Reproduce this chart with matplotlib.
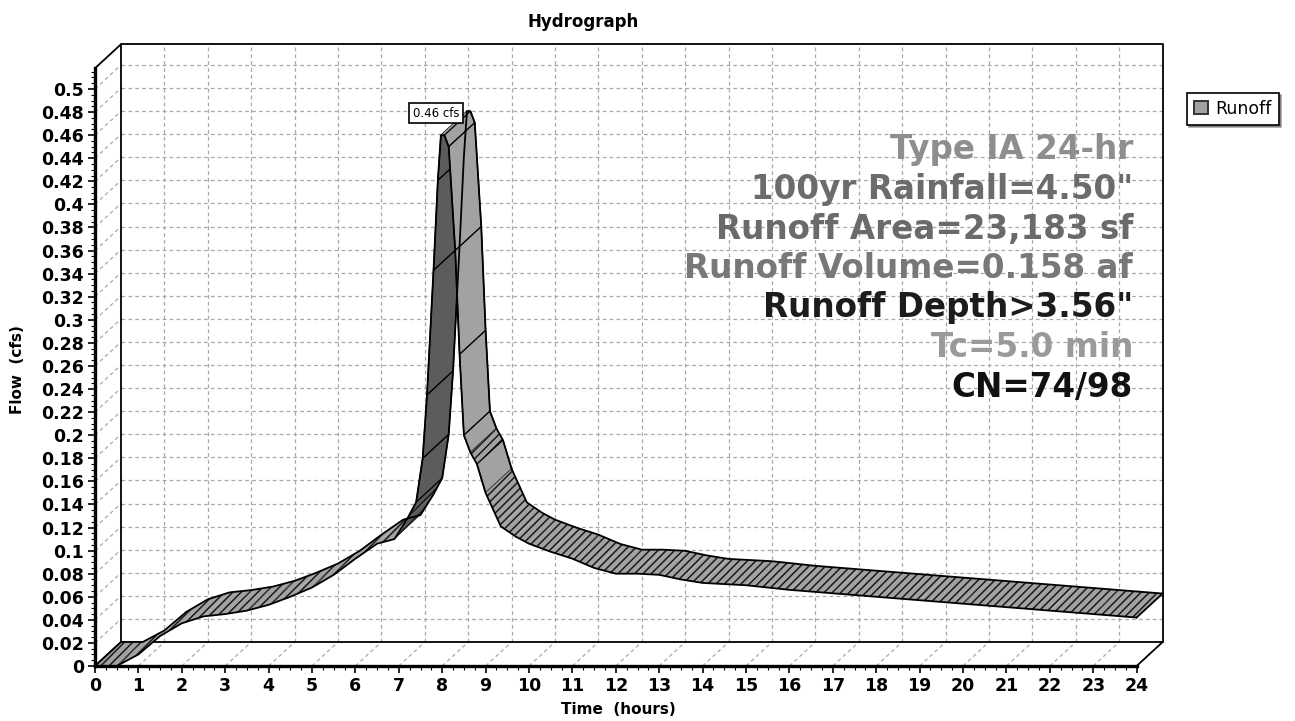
import matplotlib
matplotlib.use("Agg")
import matplotlib.pyplot as plt
from matplotlib.patches import Polygon, Patch
import numpy as np

# hydrograph (hours, cfs)
hours = [0, 0.5, 1.0, 1.5, 2.0, 2.5, 3.0, 3.5, 4.0, 4.5, 5.0, 5.5, 6.0, 6.5, 6.9,
         7.2, 7.4, 7.55, 7.65, 7.8, 7.9, 7.97, 8.05, 8.15, 8.3, 8.4, 8.5, 8.65,
         8.8, 9.0, 9.35, 9.7, 10.0, 10.5, 11.0, 11.5, 12.0, 12.5, 13.0, 13.5,
         14, 15, 16, 17, 18, 19, 20, 21, 22, 23, 24]
flow = [0, 0.0, 0.010, 0.026, 0.037, 0.043, 0.045, 0.048, 0.053, 0.060, 0.068,
        0.079, 0.093, 0.106, 0.110, 0.128, 0.142, 0.180, 0.235, 0.343, 0.421,
        0.460, 0.460, 0.450, 0.360, 0.270, 0.200, 0.185, 0.175, 0.150, 0.121,
        0.112, 0.106, 0.099, 0.093, 0.085, 0.080, 0.080, 0.079, 0.075, 0.072,
        0.070, 0.066, 0.063, 0.060, 0.057, 0.054, 0.051, 0.048, 0.045, 0.042]

x_ticks = list(range(0, 25))
y_ticks = [round(0.02 * i, 2) for i in range(26)]

info_lines = ['Type IA 24-hr', '100yr Rainfall=4.50"', 'Runoff Area=23,183 sf',
              'Runoff Volume=0.158 af', 'Runoff Depth>3.56"', 'Tc=5.0 min', 'CN=74/98']
info_colors = ['#8e8e8e', '#6c6c6c', '#6a6a6a', '#787878', '#1c1c1c', '#9a9a9a', '#111111']

peak_label = '0.46 cfs'

# pixel layout of the picture
W, H = 1295, 721
X0, PXH = 95, 43.4      # x pixel of 0 h, pixels per hour
Y0, PXC = 666, 1154     # y pixel of 0 cfs, pixels per cfs
dx, dy = 0.6, 0.0208    # depth offset (hours, cfs)
ytop = 0.518

plt.rcParams['hatch.linewidth'] = 1.1

fig = plt.figure(figsize=(W / 100, H / 100), dpi=100)
ax = fig.add_axes([0, 0, 1, 1])
ax.set_xlim(-X0 / PXH, (W - X0) / PXH)
ax.set_ylim((Y0 - H) / PXC, Y0 / PXC)

gkw = dict(color='#a8a8a8', lw=0.9, ls=(0, (3, 2.5)), zorder=1)
# back wall grid
for t in x_ticks[1:-1]:
    ax.plot([t + dx, t + dx], [dy, ytop + dy], **gkw)
for v in y_ticks[1:]:
    ax.plot([dx, 24 + dx], [v + dy, v + dy], **gkw)
    ax.plot([0, dx], [v, v + dy], **gkw)        # left wall
for t in x_ticks[1:-1]:
    ax.plot([t, t + dx], [0, dy], **gkw)        # floor

# frame
fkw = dict(color='black', lw=1.3, zorder=2)
ax.plot([dx, dx, 24 + dx, 24 + dx, dx], [dy, ytop + dy, ytop + dy, dy, dy], **fkw)
ax.plot([0, dx], [ytop, ytop + dy], **fkw)
ax.plot([0, dx], [0, dy], **fkw)
ax.plot([24, 24 + dx], [0, dy], **fkw)

# ribbon
t = np.array(hours)
f = np.array(flow)
for i in range(len(t) - 1):
    sx = (t[i + 1] - t[i]) * PXH
    sy = (f[i + 1] - f[i]) * PXC
    cross = sx * dy * PXC - sy * dx * PXH
    quad = [(t[i], f[i]), (t[i + 1], f[i + 1]),
            (t[i + 1] + dx, f[i + 1] + dy), (t[i] + dx, f[i] + dy)]
    steep = abs(sy) > 2.5 * sx
    face = '#a2a2a2' if cross > 0 else '#5c5c5c'
    if steep:
        ax.add_patch(Polygon(quad, closed=True, facecolor=face, edgecolor='black',
                             lw=0.9, zorder=3))
    else:
        ax.add_patch(Polygon(quad, closed=True, facecolor=face, edgecolor='#1a1a1a',
                             lw=0, hatch='////', zorder=3))
ax.plot(t, f, color='black', lw=1.3, zorder=4)
ax.plot(t + dx, f + dy, color='black', lw=1.3, zorder=4)
ax.plot([t[0], t[0] + dx], [f[0], f[0] + dy], color='black', lw=1.3, zorder=4)
ax.plot([t[-1], t[-1] + dx], [f[-1], f[-1] + dy], color='black', lw=1.3, zorder=4)

# front axes
for s in ['top', 'right']:
    ax.spines[s].set_visible(False)
ax.spines['left'].set_position(('data', 0))
ax.spines['bottom'].set_position(('data', 0))
ax.spines['left'].set_bounds(0, ytop)
ax.spines['bottom'].set_bounds(0, 24)
ax.spines['left'].set_linewidth(2.4)
ax.spines['bottom'].set_linewidth(2.4)
ax.spines['left'].set_zorder(5)
ax.spines['bottom'].set_zorder(5)
ax.set_xticks(x_ticks, [str(v) for v in x_ticks], fontweight='bold')
ax.set_yticks(y_ticks, ['{:g}'.format(v) for v in y_ticks], fontweight='bold')
ax.set_xticks(np.arange(0, 24.01, 0.25), minor=True)
ax.set_yticks(np.arange(0, 0.5151, 0.005), minor=True)
ax.tick_params(which='major', direction='out', length=5, width=1.2, labelsize=12.5, pad=3)
ax.tick_params(which='minor', direction='out', length=3, width=0.8)

# text
fig.text(583 / W, 1 - 22 / H, 'Hydrograph', ha='center', va='center', fontsize=12, fontweight='bold')
fig.text(18 / W, 1 - 370 / H, 'Flow  (cfs)', ha='center', va='center', rotation=90,
         fontsize=11, fontweight='bold')
fig.text(618 / W, 1 - 710 / H, 'Time  (hours)', ha='center', va='center', fontsize=11, fontweight='bold')

for k, (line, col) in enumerate(zip(info_lines, info_colors)):
    fig.text(1133 / W, 1 - (150 + 39.5 * k) / H, line, ha='right', va='center',
             fontsize=23.5, fontweight='bold', color=col, zorder=6)

ax.text(7.86, 0.479, peak_label, ha='center', va='center', fontsize=8.5, zorder=7,
        bbox=dict(boxstyle='square,pad=0.3', facecolor='white', edgecolor='black', lw=1.2))

leg = fig.legend(handles=[Patch(facecolor='#a2a2a2', edgecolor='#333333', lw=1.4)],
                 labels=['Runoff'], loc='upper left', bbox_to_anchor=(1178 / W, 1 - 84 / H),
                 fontsize=12.5, frameon=True, fancybox=False, shadow=True,
                 handlelength=0.8, handleheight=0.8, handletextpad=0.45, borderpad=0.4)
leg.get_frame().set_edgecolor('black')
leg.get_frame().set_linewidth(1.2)

fig.savefig('out.png', dpi=100)
